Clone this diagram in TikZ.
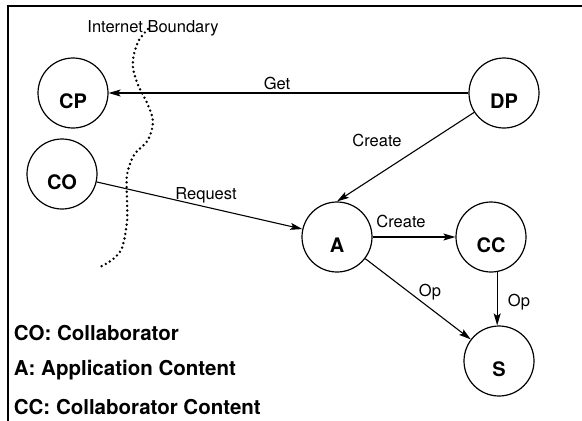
\documentclass[tikz,border=0pt]{standalone}
\usepackage{fontspec}
\setmainfont{TeX Gyre Heros}
\usetikzlibrary{arrows.meta}

\begin{document}
\begin{tikzpicture}
[->,>={Stealth[length=12pt,width=7pt,inset=2.5pt]},x=1pt,y=-1pt,line width=1.1pt,
 ent/.style={circle,draw,line width=1.2pt,minimum size=70pt,
   label={[font=\fontsize{20}{24}\selectfont\bfseries,yshift=-8pt]center:#1}},
 act/.style={font=\fontsize{16.5}{19}\selectfont},
 key/.style={anchor=west,font=\fontsize{20.5}{24}\selectfont\bfseries}]

  \useasboundingbox (0,0) rectangle (582,421);

  % frame, top and left side only
  \draw[-,line width=1.5pt] (582,6) -- (8,6) -- (8,421);

  \node[act] (bnd) at (153,28) {Internet Boundary};
  % the boundary line
  \draw[-,line width=2.7pt,line cap=round,dash pattern=on 0pt off 4.7pt]
    plot[smooth] coordinates {(148,29) (139,40) (134,54) (133,68) (138,85)
      (148,105) (153,122) (148,140) (134,155) (127,175) (127,200) (127,222)
      (122,248) (112,260) (100,267)};

  \node[ent=CP] (cp) at (73,93)   {};
  \node[ent=CO] (co) at (62,174)  {};
  \node[ent=DP] (dp) at (504,93)  {};
  \node[ent=A]  (a)  at (337,237) {};
  \node[ent=CC] (cc) at (491,237) {};
  \node[ent=S]  (s)  at (499,361) {};

  \foreach \from/\to in {dp/cp,co/a,dp/a.north,a/cc,a/s}
    \draw (\from) -- (\to);
  \draw (cc.-80) -- (cc.-80 |- s.north);

  \node[act] (get) at (277,83)  {Get};
  \node[act] (req) at (206,195) {Request};
  \node[act] (mk1) at (377,140) {Create};
  \node[act] (mk2) at (401,221) {Create};
  \node[act] (op1) at (430,292) {Op};
  \node[act] (op2) at (519,302) {Op};

  % legend
  \node[key] (k1) at (10,333) {CO: Collaborator};
  \node[key] (k2) at (10,370) {A: Application Content};
  \node[key] (k3) at (10,407) {CC: Collaborator Content};

\end{tikzpicture}
\end{document}
